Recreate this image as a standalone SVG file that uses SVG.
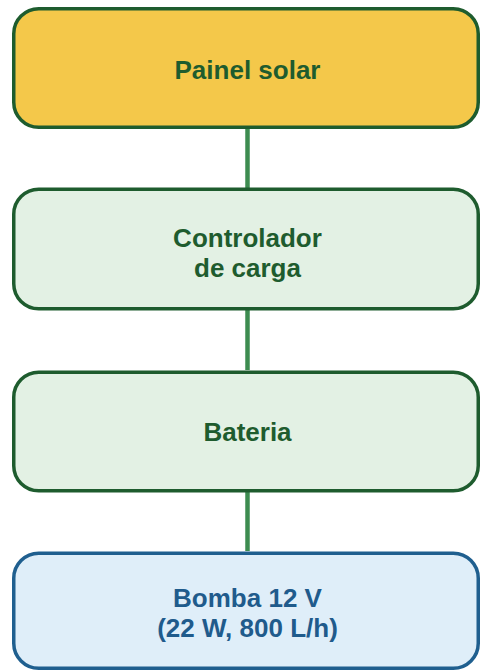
<svg xmlns="http://www.w3.org/2000/svg" width="481" height="671" viewBox="0 0 481 671">
<style>
.box{stroke-width:3.5}
.g{fill:#e3f1e4;stroke:#1e5c2e}
.y{fill:#f4c84a;stroke:#1e5c2e}
.b{fill:#dfeef9;stroke:#1f5f8f}
text{font-family:"Liberation Sans",Arial,sans-serif;font-weight:bold;font-size:26px;text-anchor:middle}
.tg{fill:#1e5c2e}
.tb{fill:#1f5b8c}
.conn{stroke:#3d8c50;stroke-width:4.5;fill:none}
</style>
<rect width="481" height="671" fill="#ffffff"/>
<g id="connectors">
<line class="conn" x1="247.5" y1="129" x2="247.5" y2="188"/>
<line class="conn" x1="247.5" y1="310" x2="247.5" y2="370"/>
<line class="conn" x1="247.5" y1="492" x2="247.5" y2="551"/>
</g>
<g id="painel">
<rect class="box y" x="13.75" y="8.75" width="464.5" height="118.5" rx="25"/>
<text class="tg" x="247.5" y="79">Painel solar</text>
</g>
<g id="controlador">
<rect class="box g" x="13.75" y="189.25" width="464.5" height="119.5" rx="25"/>
<text class="tg" x="247.5" y="247">Controlador</text>
<text class="tg" x="247.5" y="277">de carga</text>
</g>
<g id="bateria">
<rect class="box g" x="13.75" y="372.25" width="464.5" height="118.5" rx="25"/>
<text class="tg" x="247.5" y="441">Bateria</text>
</g>
<g id="bomba">
<rect class="box b" x="13.75" y="553.25" width="464.5" height="115" rx="25"/>
<text class="tb" x="247.5" y="607">Bomba 12 V</text>
<text class="tb" x="247.5" y="637">(22 W, 800 L/h)</text>
</g>
</svg>
